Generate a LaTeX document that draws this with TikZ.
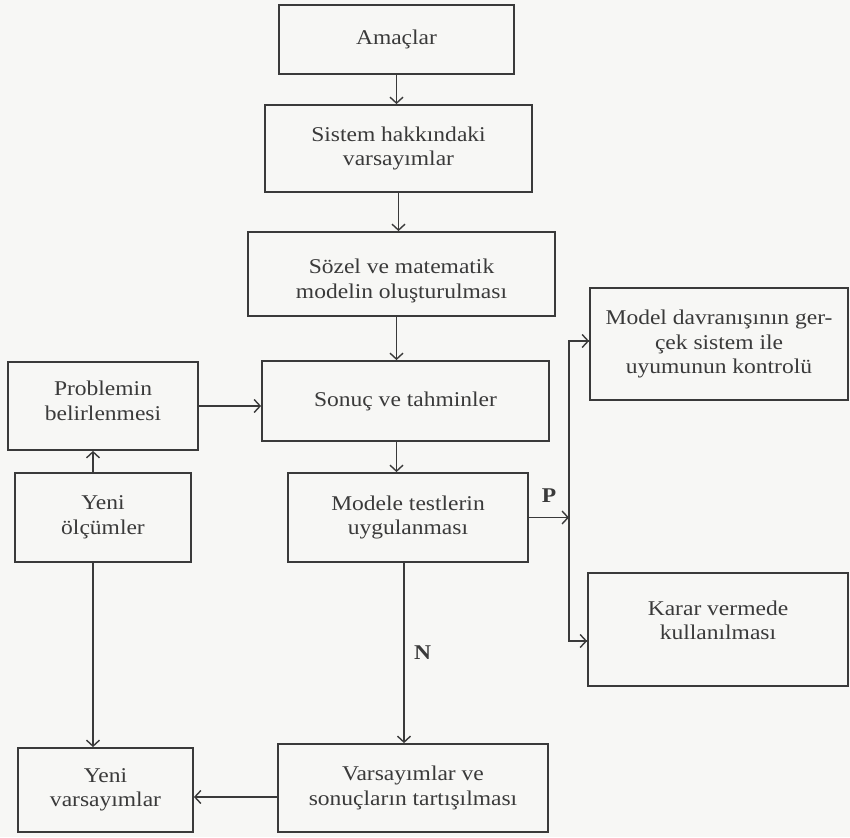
\documentclass[tikz,border=0pt]{standalone}
\usepackage{fontspec}
\setmainfont{Liberation Serif}[FakeStretch=1.12]
\usetikzlibrary{arrows.meta}
\definecolor{ink}{HTML}{3A3A3A}
\definecolor{paper}{HTML}{F7F7F5}
\tikzset{
  txt/.style={text=ink, align=center, inner sep=0pt,
    font=\fontsize{21}{24.5}\selectfont},
  box/.style={draw=ink, line width=1.8pt, txt},
  arr/.style={draw=ink, line width=1.4pt,
    -{Straight Barb[length=6pt,width=13pt,line width=1.4pt]}},
  line/.style={draw=ink, line width=1.4pt},
  lbl/.style={text=ink, font=\fontsize{21}{24}\selectfont\bfseries}
}
\begin{document}
\begin{tikzpicture}[x=1pt,y=-1pt]
  \fill[paper] (0,0) rectangle (850,837);
  \useasboundingbox (0,0) rectangle (850,837);

  % main column
  \node[box, minimum width=235pt, minimum height=69pt] (amac) at (396.5,39.5) {Amaçlar};
  \node[box, minimum width=267pt, minimum height=87pt] (sistem) at (398.5,148.5) {Sistem hakkındaki\\varsayımlar};
  \node[box, minimum width=307pt, minimum height=84pt,
    label={[txt, yshift=-7pt]center:{Sözel ve matematik\\modelin oluşturulması}}] (sozel) at (401.5,274) {};
  \node[box, minimum width=287pt, minimum height=80pt] (sonuc) at (405.5,401) {Sonuç ve tahminler};
  \node[box, minimum width=240pt, minimum height=89pt] (modele) at (408,517.5) {Modele testlerin\\uygulanması};
  \node[box, minimum width=270pt, minimum height=88pt] (tartis) at (413,788) {Varsayımlar ve\\sonuçların tartışılması};

  % left column
  \node[box, minimum width=190pt, minimum height=88pt,
    label={[txt, yshift=5pt]center:{Problemin\\belirlenmesi}}] (problem) at (103,406) {};
  \node[box, minimum width=176pt, minimum height=89pt] (olcum) at (103,517.5) {Yeni\\ölçümler};
  \node[box, minimum width=175pt, minimum height=84pt] (yenivar) at (105.5,790) {Yeni\\varsayımlar};

  % right column
  \node[box, minimum width=258pt, minimum height=112pt] (davranis) at (719,344) {Model davranışının ger-\\çek sistem ile\\uyumunun kontrolü};
  \node[box, minimum width=260pt, minimum height=113pt,
    label={[txt, yshift=9pt]center:{Karar vermede\\kullanılması}}] (karar) at (718,629.5) {};

  % vertical flow
  \draw[arr] (amac.south) -- (amac.south |- sistem.north);
  \draw[arr] (sistem.south) -- (sistem.south |- sozel.north);
  \draw[arr] (sozel.south -| amac.south) -- (sonuc.north -| amac.south);
  \draw[arr] (sonuc.south -| amac.south) -- (modele.north -| amac.south);
  \draw[arr] (problem.east) -- (problem.east -| sonuc.west);
  \draw[arr] ([xshift=-10pt]olcum.north) -- ([xshift=-10pt]olcum.north |- problem.south);
  \draw[arr] ([xshift=-10pt]olcum.south) -- ([xshift=-10pt]olcum.south |- yenivar.north);
  \draw[arr] ([xshift=-4pt]modele.south) -- ([xshift=-4pt]modele.south |- tartis.north)
    node[lbl, pos=0.5, right=6pt] {N};
  \draw[arr] ([yshift=-9pt]tartis.west) -- ([yshift=-9pt]tartis.west -| yenivar.east);

  % P branch
  \coordinate (split) at (569,517.5);
  \draw[arr] (modele.east) -- (split) node[lbl, pos=0.5, above=11pt] {P};
  \draw[line] (split) |- ([yshift=3pt]davranis.west);
  \draw[arr] ([yshift=3pt]davranis.west -| split) -- ([yshift=3pt]davranis.west);
  \draw[line] (split) |- ([yshift=-11.5pt]karar.west);
  \draw[arr] ([yshift=-11.5pt]karar.west -| split) -- ([yshift=-11.5pt]karar.west);
\end{tikzpicture}
\end{document}
